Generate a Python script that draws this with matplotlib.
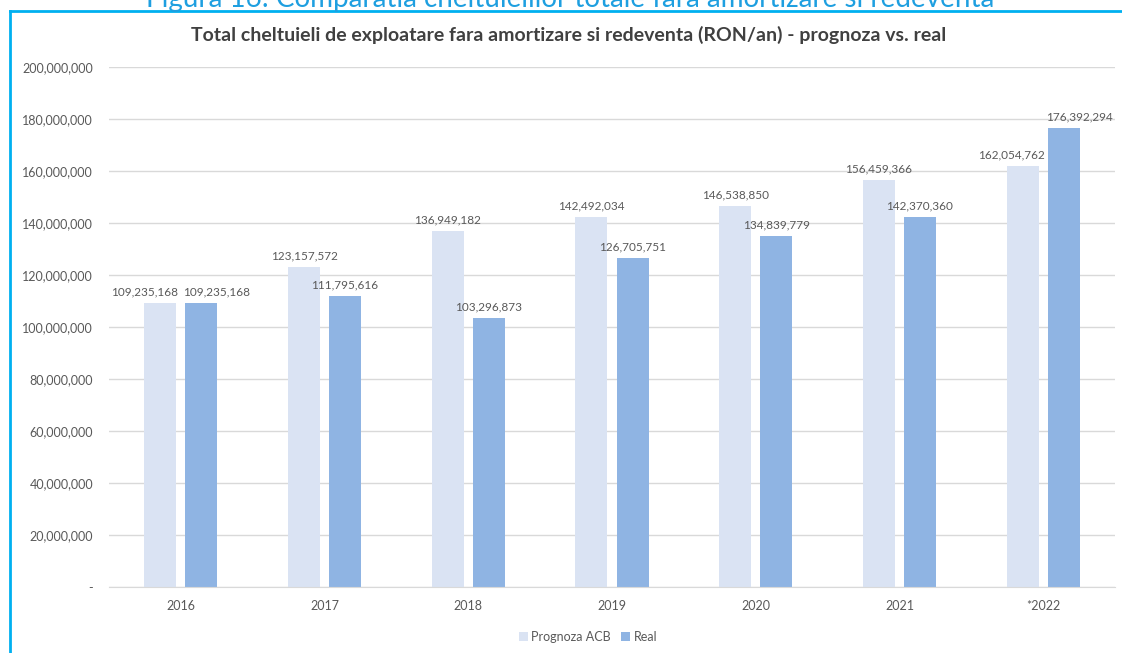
import numpy as np
import matplotlib.pyplot as plt
from matplotlib.lines import Line2D
from matplotlib.ticker import FuncFormatter

plt.rcParams['font.family'] = ['Lato', 'DejaVu Sans']

# Date: cheltuieli de exploatare (RON/an)
years = ['2016', '2017', '2018', '2019', '2020', '2021', '*2022']
prognoza = [109235168, 123157572, 136949182, 142492034, 146538850, 156459366, 162054762]
real = [109235168, 111795616, 103296873, 126705751, 134839779, 142370360, 176392294]

c_prog = '#DAE3F3'
c_real = '#8FB4E3'
c_text = '#595959'
c_grid = '#D9D9D9'
c_frame = '#00B0F0'

fig = plt.figure(figsize=(11.22, 6.53), dpi=100)
ax = fig.add_axes([109 / 1122, 66 / 653, 1006 / 1122, 520 / 653])

x = np.arange(len(years))
w = 0.223
off = 0.143
b1 = ax.bar(x - off, prognoza, w, color=c_prog, label='Prognoza ACB', zorder=2)
b2 = ax.bar(x + off, real, w, color=c_real, label='Real', zorder=2)

# etichetele din grupele aglomerate se departeaza putin (puncte)
shift = {0: (-11, 11), 6: (-8, 11)}
for k, bars in enumerate((b1, b2)):
    for i, b in enumerate(bars):
        h = b.get_height()
        dx = shift.get(i, (0, 0))[k]
        ax.annotate(f'{h:,.0f}', (b.get_x() + b.get_width() / 2, h),
                    xytext=(dx, 4), textcoords='offset points',
                    ha='center', va='bottom', fontsize=8.5, color=c_text)

ax.set_xlim(-0.5, len(years) - 0.5)
ax.set_ylim(0, 200000000)
ax.set_yticks(np.arange(0, 200000001, 20000000))
ax.yaxis.set_major_formatter(FuncFormatter(lambda v, p: '-' if v == 0 else f'{v:,.0f}'))
ax.set_xticks(x)
ax.set_xticklabels(years)
ax.tick_params(length=0, labelsize=9, colors=c_text)
ax.tick_params(axis='y', pad=11.5)
ax.tick_params(axis='x', pad=9)
ax.grid(axis='y', color=c_grid, linewidth=1, zorder=0)
for s in ['top', 'right', 'left']:
    ax.spines[s].set_visible(False)
ax.spines['bottom'].set_color(c_grid)

fig.text(569 / 1122, 1 - 41 / 653,
         'Total cheltuieli de exploatare fara amortizare si redeventa (RON/an) - prognoza vs. real',
         ha='center', va='baseline', fontsize=14, fontweight='bold', color='#404040')

fig.legend(handles=[b1, b2], loc='center', bbox_to_anchor=(588 / 1122, 1 - 637 / 653),
           ncol=2, frameon=False, fontsize=9, labelcolor=c_text,
           handlelength=0.7, handleheight=0.7, handletextpad=0.3, columnspacing=0.8)

# chenarul albastru si titlul figurii (taiat sus)
fig.add_artist(Line2D([10 / 1122, 10 / 1122], [0, 1 - 11 / 653], color=c_frame, lw=2))
fig.add_artist(Line2D([10 / 1122, 1], [1 - 11 / 653, 1 - 11 / 653], color=c_frame, lw=2))
fig.text(570 / 1122, 1 - 7 / 653, 'Figura 16: Comparatia cheltuielilor totale fara amortizare si redeventa',
         ha='center', va='baseline', fontsize=20, color='#1E9FE0')

fig.savefig('out.png', dpi=100)
